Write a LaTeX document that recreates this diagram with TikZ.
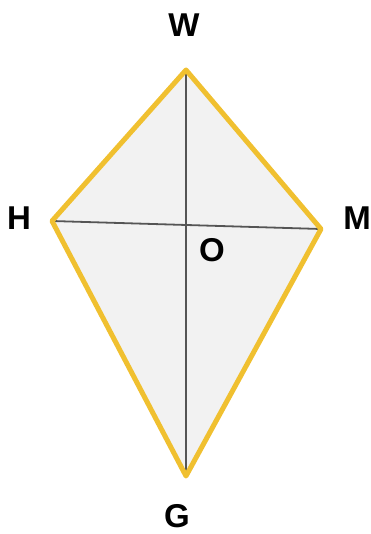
\documentclass[tikz,border=0pt]{standalone}
\usepackage{fontspec}
\setmainfont{Liberation Sans}
\begin{document}
\begin{tikzpicture}[x=1pt,y=-1pt,
  lbl/.style={font=\fontsize{33}{33}\selectfont\bfseries, text=black, inner sep=0pt},
  side/.style={draw=kiteyellow, line width=5pt, line join=round},
  diag/.style={draw=diaggray, line width=1.8pt}]
\definecolor{kiteyellow}{HTML}{F0C030}
\definecolor{diaggray}{HTML}{555555}
\definecolor{kitefill}{HTML}{F2F2F2}
\useasboundingbox (0,0) rectangle (371,534);
\coordinate (W) at (186,70);
\coordinate (H) at (52,221);
\coordinate (M) at (321,229);
\coordinate (G) at (186,476);
\fill[kitefill] (W) -- (M) -- (G) -- (H) -- cycle;
\draw[diag] (W) -- (G);
\draw[diag] (H) -- (M);
\draw[side] (W) -- (M) -- (G) -- (H) -- cycle;
\node[lbl] (lw) at (184,25) {W};
\node[lbl] (lh) at (19,218) {H};
\node[lbl] (lm) at (357,218) {M};
\node[lbl] (lo) at (212,250) {O};
\node[lbl] (lg) at (177,516) {G};
\end{tikzpicture}
\end{document}
